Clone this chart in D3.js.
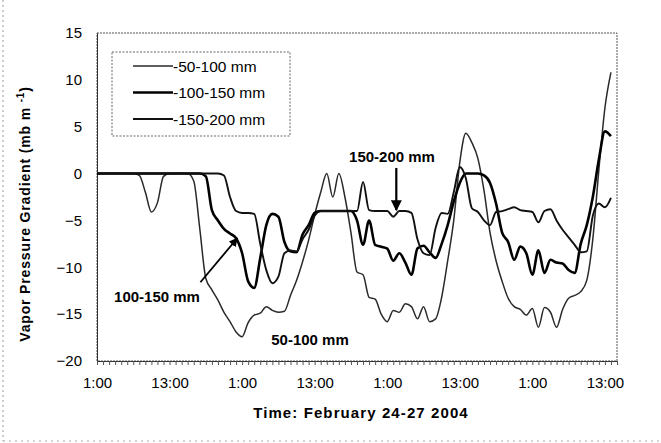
<!DOCTYPE html>
<html>
<head>
<meta charset="utf-8">
<script src="https://cdn.jsdelivr.net/npm/d3@7"></script>
<style>
body { margin: 0; background: #fff; }
svg { font-family: "Liberation Sans", Arial, sans-serif; }
</style>
</head>
<body>
<div id="chart"></div>
<script>
// hourly values, hour 0 = 1:00 on Feb 24
var xTickLabels = ["1:00", "13:00", "1:00", "13:00", "1:00", "13:00", "1:00", "13:00"];
var xTickHours = [0, 12, 24, 36, 48, 60, 72, 84];
var yTicks = [-20, -15, -10, -5, 0, 5, 10, 15];
var seriesNames = ["-50-100 mm", "-100-150 mm", "-150-200 mm"];

var grad50 = [
    0, 0, 0, 0, 0, 0, 0, -0.2, -2.0, -4.1, -3.1, -0.3,
    0, 0, 0, 0, -0.8, -5.9, -11.2, -12.4, -13.5, -14.8, -15.8, -16.9,
    -17.4, -15.9, -15.1, -14.9, -14.2, -14.6, -14.8, -14.7, -13.0, -11.4, -9.4, -7.1,
    -4.4, -2.0, 0, -2.5, 0, -2.5, -6.3, -10.5, -10.8, -13.2, -13.4, -15.0,
    -15.8, -14.6, -14.8, -13.9, -14.2, -15.5, -14.2, -15.8, -15.5, -13.2, -9.3, -5.0,
    1.2, 4.3, 3.3, 1.6, -1.8, -6.3, -9.3, -11.5, -13.3, -14.2, -14.5, -15.1,
    -14.4, -16.4, -14.3, -14.8, -16.4, -14.5, -13.3, -13.0, -12.6, -11.4, -7.0, 0.4,
    7.0, 10.8
];
var grad100 = [
    0, 0, 0, 0, 0, 0, 0, 0, 0, 0, 0, 0,
    0, 0, 0, 0, 0, 0, -0.3, -3.9, -5.0, -5.9, -6.4, -6.9,
    -8.5, -11.5, -12.2, -9.0, -5.5, -4.3, -4.6, -7.3, -8.3, -8.4, -6.5, -5.5,
    -4.2, -4.0, -4.0, -4.0, -4.0, -4.0, -4.0, -5.0, -7.6, -5.0, -7.6, -7.8,
    -8.0, -9.3, -8.5, -9.5, -10.8, -8.0, -7.7, -8.4, -9.0, -7.5, -5.5, -3.0,
    -1.0, 0, 0, 0, -0.2, -1.0, -3.2, -6.3, -7.3, -9.2, -7.8, -8.5,
    -10.8, -8.2, -10.6, -9.2, -9.5, -9.6, -10.3, -10.6, -7.5, -5.5, -2.5, 1.5,
    4.5, 4.0
];
var grad150 = [
    0, 0, 0, 0, 0, 0, 0, 0, 0, 0, 0, 0,
    0, 0, 0, 0, 0, 0, 0, 0, 0, -0.2, -2.5, -4.0,
    -4.2, -4.2, -4.3, -7.5, -10.3, -11.7, -11.0, -8.5, -8.2, -8.3, -7.0, -6.0,
    -4.5, -4.0, -4.0, -4.0, -4.0, -4.0, -4.0, -4.0, -0.9, -3.9, -4.0, -4.0,
    -4.0, -4.6, -4.0, -4.0, -4.2, -7.0, -8.5, -8.7, -5.8, -4.2, -4.3, -2.0,
    0.7, -0.5, -3.7, -4.1, -5.0, -5.5, -4.1, -4.0, -3.8, -3.6, -3.9, -4.0,
    -4.1, -5.2, -4.0, -3.8, -5.0, -6.0, -6.8, -7.6, -8.4, -8.3, -4.5, -3.2,
    -3.6, -2.6
];

var series = [
    {name: seriesNames[0], values: grad50, color: "#2a2a2a", width: 1.5},
    {name: seriesNames[1], values: grad100, color: "#000", width: 2.6},
    {name: seriesNames[2], values: grad150, color: "#111", width: 1.9}
];

var W = 661, H = 443;
var margin = {top: 33, right: 44, bottom: 82, left: 97};

var svg = d3.select("#chart").append("svg")
    .attr("width", W)
    .attr("height", H);

svg.append("rect").attr("width", W).attr("height", H).attr("fill", "#fff");

// faint scan border of the figure
svg.append("line").attr("x1", 3).attr("x2", 3).attr("y1", 0).attr("y2", 441)
    .attr("stroke", "#999").attr("stroke-dasharray", "2,3");
svg.append("line").attr("x1", 3).attr("x2", W).attr("y1", 441).attr("y2", 441)
    .attr("stroke", "#aaa").attr("stroke-dasharray", "2,4");

var x = d3.scaleLinear().domain([0, 86]).range([margin.left, W - margin.right]);
var y = d3.scaleLinear().domain([-20, 15]).range([H - margin.bottom, margin.top]);

// plot frame (dotted in the original)
svg.append("rect")
    .attr("x", x(0)).attr("y", y(15))
    .attr("width", x(86) - x(0)).attr("height", y(-20) - y(15))
    .attr("fill", "none").attr("stroke", "#555").attr("stroke-width", 1)
    .attr("stroke-dasharray", "2,1");

var xAxis = d3.axisBottom(x)
    .tickValues(d3.range(0, 87))
    .tickSize(4)
    .tickPadding(12)
    .tickFormat(function (d) {
        var i = xTickHours.indexOf(d);
        return i > -1 ? xTickLabels[i] : "";
    });

var gx = svg.append("g")
    .attr("transform", "translate(0," + y(-20) + ")")
    .call(xAxis);
gx.select(".domain").attr("stroke", "#333");
gx.selectAll(".tick line").attr("stroke", "#555");
gx.selectAll("text").attr("font-size", 15).attr("fill", "#000");

var yAxis = d3.axisLeft(y).tickValues(yTicks).tickSize(0).tickPadding(15);
var gy = svg.append("g")
    .attr("transform", "translate(" + x(0) + ",0)")
    .call(yAxis);
gy.select(".domain").attr("stroke", "#333");
gy.selectAll("text").attr("font-size", 15).attr("fill", "#000");

// axis titles
svg.append("text")
    .attr("x", (x(0) + x(86)) / 2 + 4)
    .attr("y", 418)
    .attr("text-anchor", "middle")
    .attr("font-size", 15)
    .attr("font-weight", "bold")
    .attr("letter-spacing", 1.1)
    .text("Time: February 24-27 2004");

var ytitle = svg.append("text")
    .attr("transform", "translate(30,214) rotate(-90)")
    .attr("text-anchor", "middle")
    .attr("font-size", 14)
    .attr("font-weight", "bold")
    .attr("letter-spacing", 0.85);
ytitle.append("tspan").text("Vapor Pressure Gradient (mb m ");
ytitle.append("tspan").attr("font-size", 10).attr("dy", -6).text("-1");
ytitle.append("tspan").attr("dy", 6).text(")");

// series lines
var line = d3.line()
    .curve(d3.curveMonotoneX)
    .x(function (d, i) { return x(i); })
    .y(function (d) { return y(d); });

svg.append("g")
    .selectAll("path")
    .data(series)
    .enter()
    .append("path")
    .attr("fill", "none")
    .attr("stroke", function (d) { return d.color; })
    .attr("stroke-width", function (d) { return d.width; })
    .attr("stroke-linejoin", "round")
    .attr("d", function (d) { return line(d.values); });

// legend
var legend = svg.append("g");
legend.append("rect")
    .attr("x", 112).attr("y", 52).attr("width", 178).attr("height", 84)
    .attr("fill", "#fff").attr("stroke", "#666").attr("stroke-dasharray", "2,1.5");
var row = legend.selectAll("g.row")
    .data(series)
    .enter().append("g")
    .attr("class", "row")
    .attr("transform", function (d, i) { return "translate(133," + (66 + i * 26.5) + ")"; });
row.append("line")
    .attr("x1", 0).attr("x2", 40)
    .attr("stroke", function (d) { return d.color; })
    .attr("stroke-width", function (d) { return d.width; });
row.append("text")
    .attr("x", 40).attr("dy", "0.36em")
    .attr("font-size", 15.5)
    .text(function (d) { return d.name; });

// annotations
svg.append("defs").append("marker")
    .attr("id", "head")
    .attr("viewBox", "0 0 10 10")
    .attr("refX", 9).attr("refY", 5)
    .attr("markerWidth", 5).attr("markerHeight", 5)
    .attr("markerUnits", "strokeWidth")
    .attr("orient", "auto")
    .append("path").attr("d", "M0,0L10,5L0,10z").attr("fill", "#000");

svg.append("line")
    .attr("x1", x(49.5)).attr("y1", y(0.6))
    .attr("x2", x(49.5)).attr("y2", y(-3.9))
    .attr("stroke", "#000").attr("stroke-width", 2.2)
    .attr("marker-end", "url(#head)");
svg.append("text")
    .attr("x", 392).attr("y", 162)
    .attr("text-anchor", "middle")
    .attr("font-size", 15).attr("font-weight", "bold")
    .text("150-200 mm");

svg.append("line")
    .attr("x1", x(17.1)).attr("y1", y(-11.6))
    .attr("x2", x(23.2)).attr("y2", y(-6.9))
    .attr("stroke", "#000").attr("stroke-width", 1.8)
    .attr("marker-end", "url(#head)");
svg.append("text")
    .attr("x", 157).attr("y", 302)
    .attr("text-anchor", "middle")
    .attr("font-size", 15).attr("font-weight", "bold")
    .text("100-150 mm");

svg.append("text")
    .attr("x", 310).attr("y", 345)
    .attr("text-anchor", "middle")
    .attr("font-size", 15).attr("font-weight", "bold")
    .text("50-100 mm");
</script>
</body>
</html>
